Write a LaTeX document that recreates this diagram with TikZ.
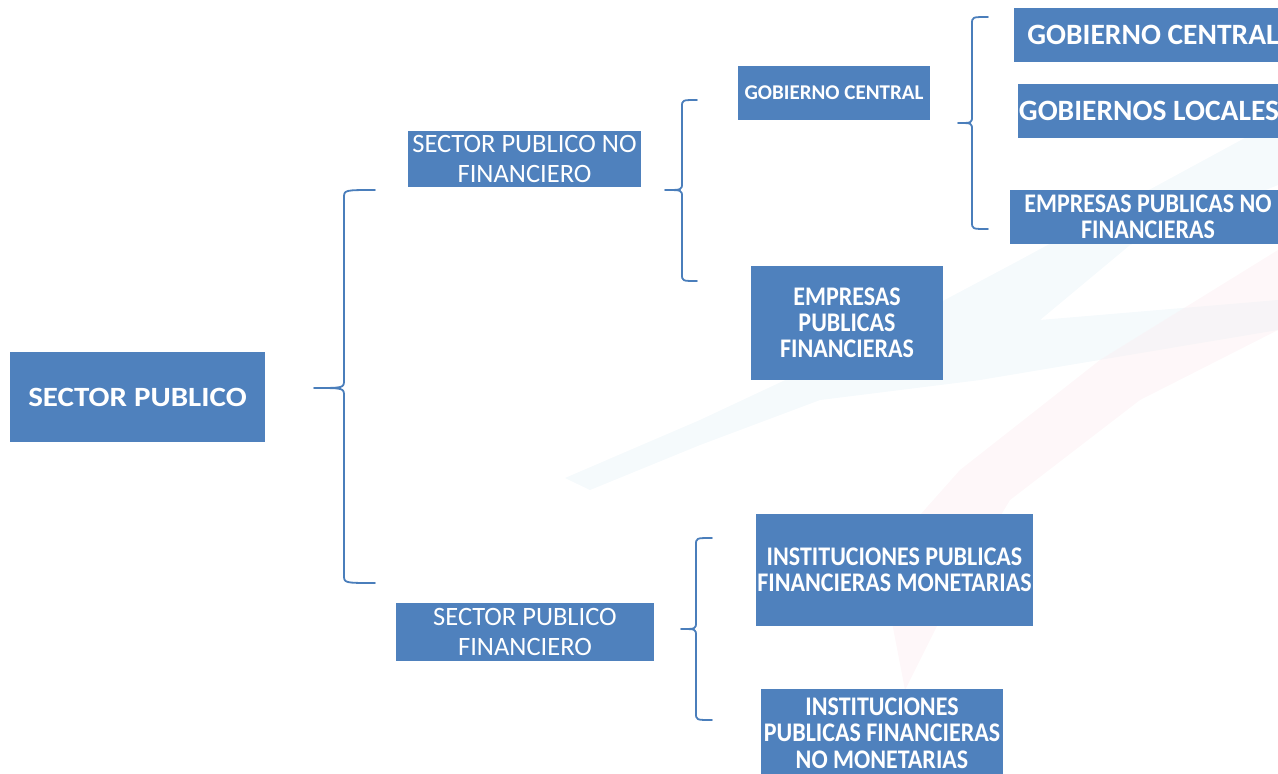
\documentclass[tikz,border=0pt]{standalone}
\usepackage{fontspec}
\usepackage{graphicx}
\setmainfont{Carlito}
\definecolor{boxblue}{HTML}{4F81BD}
\definecolor{bracecol}{HTML}{4A7EBB}
\definecolor{wmblue}{HTML}{E8F3F8}
\definecolor{wmpink}{HTML}{FCEEF1}
\newcommand\tl[1]{\scalebox{1}[1.12]{#1}}
\begin{document}
\begin{tikzpicture}[x=1pt,y=-1pt,
  box/.style={fill=boxblue,text=white,inner sep=0pt,align=center,anchor=center},
  brace/.style={draw=bracecol,line width=1.8pt,line cap=round,line join=round}]
\useasboundingbox (0,0) rectangle (1278,774);
% faint watermark
\fill[wmblue,opacity=0.45] (565,478) -- (700,420) -- (860,345) -- (1020,260) -- (1278,120) -- (1278,185) -- (1130,245) -- (1040,320) -- (1278,300) -- (1278,330) -- (980,380) -- (820,400) -- (700,445) -- (590,490) -- cycle;
\fill[wmpink,opacity=0.45] (905,690) -- (880,560) -- (960,470) -- (1100,360) -- (1278,250) -- (1278,330) -- (1140,400) -- (1010,500) -- (950,600) -- cycle;
% boxes
\node[box,minimum width=255,minimum height=90,font=\fontsize{31}{36}\selectfont\bfseries] (sp) at (137.5,397) {\scalebox{1}[0.9]{SECTOR PUBLICO}};
\node[box,minimum width=233,minimum height=56,font=\fontsize{26.5}{30}\selectfont] (spnf) at (524.5,159) {SECTOR PUBLICO NO\\FINANCIERO};
\node[box,minimum width=258,minimum height=58,font=\fontsize{26.5}{30}\selectfont] (spf) at (525,632) {SECTOR PUBLICO\\FINANCIERO};
\node[box,minimum width=192,minimum height=54,font=\fontsize{21}{24}\selectfont\bfseries] (gc1) at (834,93) {GOBIERNO CENTRAL};
\node[box,minimum width=192,minimum height=114,font=\fontsize{24}{26}\selectfont\bfseries] (epf) at (847,323) {\tl{EMPRESAS}\\\tl{PUBLICAS}\\\tl{FINANCIERAS}};
\node[box,minimum width=278,minimum height=54,font=\fontsize{29.5}{32}\selectfont\bfseries] (gc2) at (1153,35) {GOBIERNO CENTRAL};
\node[box,minimum width=262,minimum height=54,font=\fontsize{29.5}{32}\selectfont\bfseries] (gl) at (1149,111) {GOBIERNOS LOCALES};
\node[box,minimum width=276,minimum height=54,font=\fontsize{24}{26}\selectfont\bfseries] (epnf) at (1148,217) {\tl{EMPRESAS PUBLICAS NO}\\\tl{FINANCIERAS}};
\node[box,minimum width=277,minimum height=112,font=\fontsize{24}{26}\selectfont\bfseries] (ipfm) at (894.5,570) {\tl{INSTITUCIONES PUBLICAS}\\\tl{FINANCIERAS MONETARIAS}};
\node[box,minimum width=242,minimum height=88,font=\fontsize{24}{26.5}\selectfont\bfseries] (ipfnm) at (882,733) {\tl{INSTITUCIONES}\\\tl{PUBLICAS FINANCIERAS}\\\tl{NO MONETARIAS}};
% brace coordinates
\coordinate (b1t) at (375,190); \coordinate (b1m) at (314,388); \coordinate (b1b) at (375,583);
\coordinate (b2t) at (697,100); \coordinate (b2m) at (665,190); \coordinate (b2b) at (697,281);
\coordinate (b3t) at (988,17); \coordinate (b3m) at (958,123); \coordinate (b3b) at (988,229);
\coordinate (b4t) at (712,538); \coordinate (b4m) at (681,629); \coordinate (b4b) at (712,720);
% braces
\draw[brace] (b1t) .. controls (344,190) .. (344,198) -- (344,380) .. controls (344,388) .. (b1m)
  (b1m) .. controls (344,388) .. (344,396) -- (344,575) .. controls (344,583) .. (b1b);
\draw[brace] (b2t) .. controls (682,100) .. (682,107) -- (682,183) .. controls (682,190) .. (b2m)
  (b2m) .. controls (682,190) .. (682,197) -- (682,274) .. controls (682,281) .. (b2b);
\draw[brace] (b3t) .. controls (972,17) .. (972,24) -- (972,116) .. controls (972,123) .. (b3m)
  (b3m) .. controls (972,123) .. (972,130) -- (972,222) .. controls (972,229) .. (b3b);
\draw[brace] (b4t) .. controls (696,538) .. (696,545) -- (696,622) .. controls (696,629) .. (b4m)
  (b4m) .. controls (696,629) .. (696,636) -- (696,713) .. controls (696,720) .. (b4b);
\end{tikzpicture}
\end{document}
